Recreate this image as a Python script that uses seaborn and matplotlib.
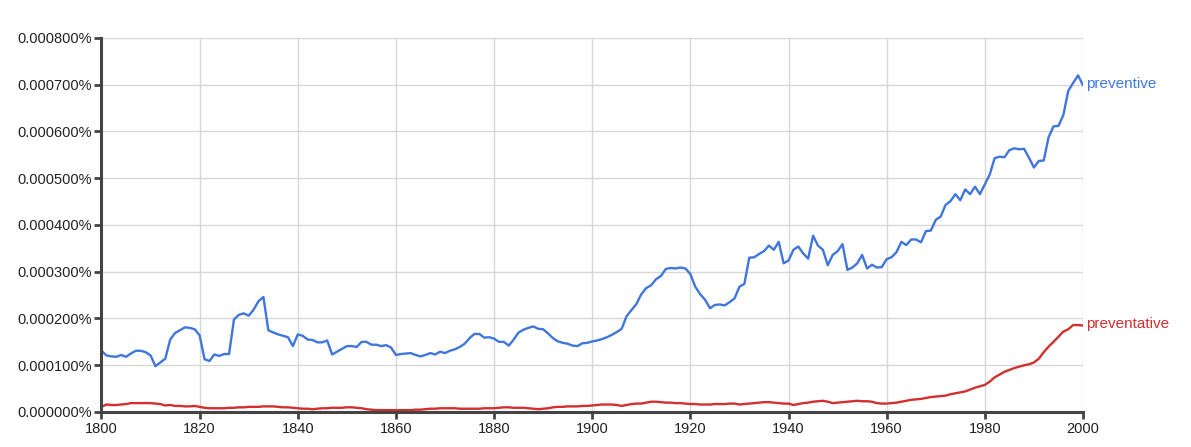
import numpy as np
import pandas as pd
import matplotlib
matplotlib.use('Agg')
import matplotlib.pyplot as plt
import seaborn as sns

# yearly values, in units of 0.0001 %
years = list(range(1800, 2001))

preventive = [
    1.31, 1.21, 1.19, 1.18, 1.22, 1.18, 1.25, 1.31, 1.31, 1.28,
    1.21, 0.98, 1.06, 1.14, 1.55, 1.69, 1.75, 1.81, 1.80, 1.77,
    1.64, 1.13, 1.09, 1.23, 1.20, 1.24, 1.24, 1.98, 2.08, 2.11,
    2.06, 2.19, 2.37, 2.46, 1.75, 1.70, 1.66, 1.63, 1.60, 1.41,
    1.66, 1.63, 1.55, 1.54, 1.49, 1.49, 1.53, 1.23, 1.29, 1.35,
    1.41, 1.41, 1.39, 1.50, 1.50, 1.44, 1.44, 1.41, 1.43, 1.38,
    1.22, 1.24, 1.25, 1.26, 1.22, 1.19, 1.22, 1.26, 1.23, 1.29,
    1.26, 1.31, 1.34, 1.39, 1.46, 1.58, 1.67, 1.67, 1.59, 1.60,
    1.57, 1.50, 1.50, 1.42, 1.55, 1.70, 1.76, 1.80, 1.83, 1.78,
    1.77, 1.68, 1.58, 1.51, 1.48, 1.46, 1.42, 1.41, 1.47, 1.48,
    1.51, 1.53, 1.56, 1.60, 1.65, 1.71, 1.78, 2.05, 2.18, 2.31,
    2.52, 2.65, 2.71, 2.84, 2.91, 3.06, 3.08, 3.07, 3.09, 3.07,
    2.95, 2.68, 2.52, 2.40, 2.22, 2.29, 2.30, 2.28, 2.35, 2.43,
    2.68, 2.74, 3.30, 3.31, 3.38, 3.44, 3.56, 3.47, 3.64, 3.18,
    3.24, 3.47, 3.54, 3.39, 3.28, 3.77, 3.56, 3.47, 3.14, 3.36,
    3.44, 3.59, 3.04, 3.09, 3.18, 3.36, 3.07, 3.15, 3.09, 3.10,
    3.27, 3.31, 3.42, 3.64, 3.57, 3.69, 3.69, 3.63, 3.87, 3.88,
    4.11, 4.18, 4.43, 4.51, 4.66, 4.53, 4.76, 4.66, 4.82, 4.66,
    4.87, 5.08, 5.43, 5.46, 5.45, 5.60, 5.64, 5.62, 5.63, 5.44,
    5.23, 5.37, 5.38, 5.88, 6.11, 6.12, 6.35, 6.87, 7.04, 7.20,
    6.99,
]

preventative = [
    0.11, 0.16, 0.15, 0.15, 0.16, 0.17, 0.19, 0.19, 0.19, 0.19,
    0.19, 0.18, 0.17, 0.14, 0.15, 0.13, 0.13, 0.12, 0.12, 0.13,
    0.11, 0.09, 0.08, 0.08, 0.08, 0.08, 0.09, 0.09, 0.10, 0.10,
    0.11, 0.11, 0.11, 0.12, 0.12, 0.12, 0.11, 0.10, 0.10, 0.09,
    0.08, 0.07, 0.07, 0.06, 0.07, 0.08, 0.08, 0.09, 0.09, 0.09,
    0.10, 0.10, 0.09, 0.08, 0.06, 0.05, 0.04, 0.04, 0.04, 0.04,
    0.04, 0.04, 0.04, 0.04, 0.05, 0.05, 0.06, 0.07, 0.07, 0.08,
    0.08, 0.08, 0.08, 0.07, 0.07, 0.07, 0.07, 0.07, 0.08, 0.08,
    0.08, 0.09, 0.10, 0.10, 0.09, 0.09, 0.09, 0.08, 0.07, 0.06,
    0.07, 0.08, 0.10, 0.11, 0.11, 0.12, 0.12, 0.12, 0.13, 0.13,
    0.14, 0.15, 0.16, 0.16, 0.16, 0.15, 0.13, 0.15, 0.17, 0.18,
    0.18, 0.20, 0.22, 0.22, 0.21, 0.20, 0.20, 0.19, 0.19, 0.18,
    0.17, 0.17, 0.16, 0.16, 0.16, 0.17, 0.17, 0.17, 0.18, 0.18,
    0.16, 0.17, 0.18, 0.19, 0.20, 0.21, 0.21, 0.20, 0.19, 0.18,
    0.18, 0.15, 0.17, 0.19, 0.20, 0.22, 0.23, 0.24, 0.22, 0.19,
    0.20, 0.21, 0.22, 0.23, 0.24, 0.23, 0.23, 0.22, 0.19, 0.18,
    0.18, 0.19, 0.20, 0.22, 0.24, 0.26, 0.27, 0.28, 0.30, 0.32,
    0.33, 0.34, 0.35, 0.38, 0.40, 0.42, 0.44, 0.48, 0.52, 0.55,
    0.58, 0.65, 0.74, 0.80, 0.86, 0.90, 0.94, 0.97, 1.00, 1.02,
    1.06, 1.14, 1.28, 1.40, 1.50, 1.61, 1.72, 1.77, 1.86, 1.86,
    1.85,
]

words = ['preventive', 'preventative']
colors = {'preventive': '#3f76de', 'preventative': '#d42f2f'}
x_ticks = list(range(1800, 2001, 20))
y_ticks = [i * 0.0001 for i in range(9)]

df = pd.DataFrame({
    'year': years * 2,
    'freq': np.array(preventive + preventative) * 1e-4,
    'word': ['preventive'] * len(years) + ['preventative'] * len(years),
})

sns.set_style("whitegrid")
plt.rcParams['font.family'] = ['Liberation Sans', 'DejaVu Sans']

fig = plt.figure(figsize=(11.91, 4.47), dpi=100)
ax = fig.add_axes([0.0852, 0.0783, 0.8241, 0.8367])

sns.lineplot(data=df, x='year', y='freq', hue='word', palette=colors,
             linewidth=1.7, legend=False, ax=ax)

ax.set_xlim(1800, 2000)
ax.set_ylim(0, 0.0008)
ax.set_xticks(x_ticks)
ax.set_yticks(y_ticks)
ax.set_yticklabels(['%.6f%%' % v for v in y_ticks])
ax.set_xlabel('')
ax.set_ylabel('')

ax.grid(True, color='#d8d8d8', linewidth=1)
for side in ['top', 'right']:
    ax.spines[side].set_visible(False)
for side in ['left', 'bottom']:
    ax.spines[side].set_visible(True)
    ax.spines[side].set_color('#444444')
    ax.spines[side].set_linewidth(2.2)
ax.tick_params(axis='both', which='major', direction='out', length=5, width=2,
               color='#444444', labelsize=10.5, labelcolor='#222222', pad=2,
               left=True, bottom=True)

# series labels at the right end of each line
for w, vals in [('preventive', preventive), ('preventative', preventative)]:
    ax.annotate(w, xy=(years[-1], vals[-1] * 1e-4), xytext=(2, 1),
                textcoords='offset points', va='center', ha='left',
                color=colors[w], fontsize=11, annotation_clip=False)

fig.savefig('out.png', dpi=100)
